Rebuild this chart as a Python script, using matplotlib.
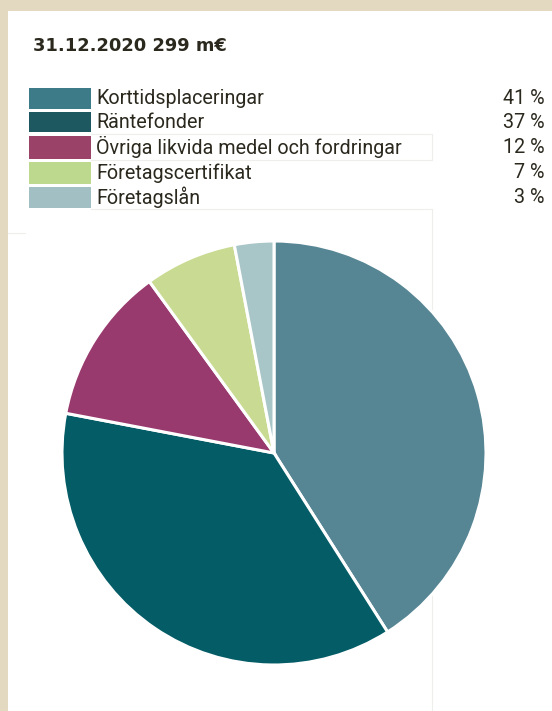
import matplotlib
matplotlib.use("Agg")
import matplotlib.pyplot as plt
from matplotlib.patches import Rectangle

# data
title = "31.12.2020 299 m\u20ac"
labels = ["Korttidsplaceringar", "Räntefonder", "Övriga likvida medel och fordringar",
          "Företagscertifikat", "Företagslån"]
shares = [41, 37, 12, 7, 3]
legendColors = ["#3D7B89", "#1D5760", "#9B4269", "#BDD98E", "#A2BFC3"]
pieColors = ["#568594", "#035C66", "#983A6D", "#C9DB92", "#A8C5C7"]

W, H = 552, 711
txtColor = "#2B291E"
beige = "#E3D9C1"

fig = plt.figure(figsize=(W / 100, H / 100), dpi=100)
fig.patch.set_facecolor("white")

# full-figure axes in pixel units for the frame, title and legend
bg = fig.add_axes([0, 0, 1, 1])
bg.set_xlim(0, W)
bg.set_ylim(H, 0)
bg.axis("off")

bg.add_patch(Rectangle((0, 0), W, 11, color=beige, lw=0))
bg.add_patch(Rectangle((0, 0), 8, H, color=beige, lw=0))

# faint panel lines
lineCol = "#EEEEEC"
for yy in (134, 160, 209):
  bg.plot([91, 432], [yy, yy], color=lineCol, lw=0.8)
bg.plot([432, 432], [134, 160], color=lineCol, lw=0.8)
bg.plot([432, 432], [209, H], color=lineCol, lw=0.8)
bg.plot([8, 25], [233, 233], color=lineCol, lw=0.8)

bg.text(33, 46, title, fontsize=12.9, fontweight="bold", family="DejaVu Sans",
        color=txtColor, va="center", ha="left")

rowTop = [88, 112, 136, 162, 187]
rowH = [21, 20, 23, 22, 21]
for i, lab in enumerate(labels):
  y0 = rowTop[i]
  bg.add_patch(Rectangle((29, y0), 62, rowH[i], color=legendColors[i], lw=0))
  yc = y0 + rowH[i] / 2
  bg.text(96, yc, lab, fontsize=14.2, family="Roboto", color=txtColor,
          va="center", ha="left")
  bg.text(545, yc, f"{shares[i]} %", fontsize=14.2, family="Roboto",
          color=txtColor, va="center", ha="right")

# pie
cx, cy, r = 274, 453, 212
ax = fig.add_axes([(cx - r) / W, (H - cy - r) / H, 2 * r / W, 2 * r / H])
ax.pie(shares, colors=pieColors, startangle=90, counterclock=False,
       wedgeprops=dict(edgecolor="white", linewidth=2.2))
ax.set_xlim(-1, 1)
ax.set_ylim(-1, 1)
ax.set_aspect("equal")
ax.axis("off")

fig.savefig("out.png", dpi=100)
